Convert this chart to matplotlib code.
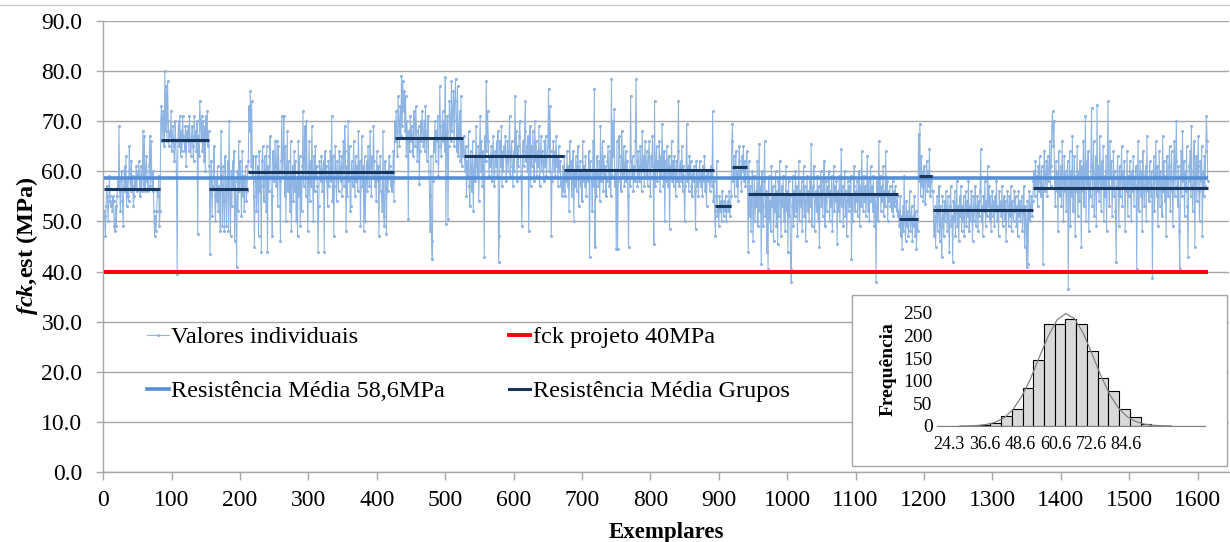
import numpy as np
import matplotlib.pyplot as plt
from matplotlib.lines import Line2D
from matplotlib.patches import Rectangle

plt.rcParams['font.family'] = ['Liberation Serif', 'DejaVu Serif']
plt.rcParams['mathtext.fontset'] = 'custom'
plt.rcParams['mathtext.rm'] = 'Liberation Serif'
plt.rcParams['mathtext.bf'] = 'Liberation Serif:bold'
plt.rcParams['mathtext.bfit'] = 'Liberation Serif:italic:bold'

# Individual values (MPa), one list per group
g01 = [52, 51, 47, 53, 57, 55, 50, 54, 59, 55, 53, 54, 52, 55, 54, 49, 48, 53, 49, 55,
       58, 57, 69, 56, 52, 58, 60, 54, 49, 57, 61, 56, 63, 53, 58, 55, 54, 65, 60, 56,
       62, 57, 59, 53, 55, 58, 57, 61, 56, 60, 59, 62, 58, 55, 61, 56, 59, 68, 57, 67,
       56, 60, 63, 58, 57, 56, 61, 67, 57, 66, 59, 56, 60, 52, 47, 51, 48, 52, 56, 55,
       59, 49, 52]
g02 = [70, 73, 66, 71, 72, 65, 80, 68, 77, 66, 78, 70, 65, 68, 67, 72, 64, 66, 69, 65,
       62, 70, 66, 60, 39.5, 66, 70, 65, 71, 63, 68, 64, 71, 67, 66, 64, 69, 61, 68, 66,
       69, 64, 71, 66, 63, 67, 69, 65, 62, 71, 66, 68, 64, 70, 47.5, 67, 63, 74, 70, 66,
       71, 64, 70, 62, 69, 60, 71, 66, 72, 65, 68]
g03 = [61, 43.5, 58, 62, 51, 57, 60, 65, 55, 50, 58, 54, 61, 52, 57, 56, 48, 68, 59, 49,
       61, 54, 48, 63, 57, 49, 58, 62, 48, 70, 55, 47, 60, 53, 62, 57, 64, 46, 58, 54,
       41, 60, 52, 66, 56, 62, 58, 51, 64, 55, 59, 52, 58, 61, 54, 56, 60]
g04 = [62, 73, 68, 76, 61, 74, 59, 63, 55, 45, 58, 63, 52, 57, 61, 47, 64, 56, 59, 44,
       62, 65, 57, 54, 63, 60, 52, 65, 44, 61, 56, 63, 67, 59, 55, 47, 64, 60, 58, 66,
       61, 57, 66, 53, 65, 60, 58, 46, 62, 71, 59, 63, 71, 55, 65, 50, 60, 68, 56, 62,
       57, 52, 66, 48, 59, 61, 54, 64, 56, 62, 50, 58, 47, 66, 55, 63, 49, 59, 52, 61,
       72, 57, 62, 69, 55, 70, 60, 48, 58, 66, 54, 62, 57, 69, 60, 50, 63, 56, 65, 59,
       61, 57, 44, 53, 62, 60, 58, 63, 56, 60, 62, 44, 64, 59, 61, 58, 53, 62, 57, 60,
       64, 58, 71, 54, 63, 47, 57, 65, 60, 54, 62, 59, 56, 64, 60, 58, 63, 55, 61, 66,
       57, 69, 64, 48, 61, 55, 70, 58, 65, 52, 53, 62, 59, 57, 66, 60, 55, 63, 58, 61,
       56, 68, 59, 62, 49, 60, 67, 57, 61, 48, 63, 50, 58, 62, 56, 65, 60, 57, 68, 61,
       55, 63, 59, 69, 62, 57, 60, 54, 64, 58, 61, 47, 59, 63, 56, 55, 52, 68, 51, 49,
       62, 58, 47.5, 60, 56, 59, 63, 61, 57, 60, 56, 58, 64, 54]
g05 = [70, 66, 72, 68, 63, 75, 70, 65, 73, 67, 79, 69, 78, 72, 76, 68, 75, 63, 70, 66,
       50.5, 68, 64, 71, 66, 69, 67, 63, 72, 70, 65, 73, 68, 62, 66, 69, 57.5, 64, 70, 66,
       72, 68, 65, 70, 64, 73, 67, 62, 68, 71, 60, 55, 48, 63, 46, 42.5, 58, 66, 64, 70,
       62, 68, 66, 71, 59, 65, 77, 69, 63, 67, 72, 66, 70, 64, 78.8, 49.5, 68, 71, 50.5, 65,
       74, 70, 66, 78, 68, 72, 76, 65, 74, 78.5, 70, 64, 77, 63, 68, 72, 62, 75, 61, 66,
       63]
g06 = [67, 63, 60, 65, 55, 62, 59, 68, 57, 53, 64, 61, 56, 66, 52, 60, 63, 58, 69, 61,
       59, 65, 54, 63, 71, 60, 66, 57, 64, 62, 43, 67, 62, 78, 64, 72, 66, 59, 63, 61,
       65, 58, 63, 67, 60, 57, 64, 61, 66, 59, 68, 42, 47, 66, 61, 69, 57, 64, 60, 65,
       63, 67, 58, 62, 66, 60, 64, 71, 59, 63, 66, 61, 57, 64, 60, 75, 63, 68, 58, 65,
       61, 67, 70, 63, 59, 49, 64, 66, 61, 68, 74, 62, 65, 60, 67, 48, 63, 69, 57, 65,
       61, 68, 64, 58, 70, 62, 66, 59, 64, 61, 69, 57, 63, 67, 60, 64, 62, 58, 66, 61,
       67, 59, 63, 65, 76.5, 60, 73, 64, 47, 58, 62, 66, 60, 64, 59, 67, 61, 63, 57, 65,
       60, 62, 57, 58, 55, 61, 56]
g07 = [63, 55, 60, 58, 64, 57, 61, 52, 66, 59, 62, 55, 58, 64, 50, 60, 57, 63, 56, 61,
       65, 53, 59, 62, 57, 60, 54, 66, 58, 61, 57, 63, 55, 60, 58, 59, 64, 43, 62, 60,
       58, 52, 66, 57, 76.5, 45, 60, 55, 63, 59, 57, 62, 54, 69, 58, 61, 66, 56, 63, 59,
       61, 55, 58, 62, 65, 60, 57, 64, 55, 78.5, 59, 70, 63, 72.5, 57, 60, 44.5, 66, 44.5, 58,
       67, 63, 60, 56, 68, 62, 59, 65, 57, 61, 64, 58, 62, 55, 45, 60, 57, 75, 62, 59,
       63, 56, 61, 58, 66, 78.5, 62, 57, 64, 60, 58, 65, 61, 56, 68, 60, 63, 57, 66, 61,
       59, 64, 57, 62, 66, 60, 55, 63, 61, 67, 59, 45.5, 74, 57, 61, 65, 58, 62, 60, 66,
       56, 63, 59, 69.5, 61, 57, 64, 50, 62, 58, 65, 60, 57, 63, 48.5, 61, 59, 66, 58, 62,
       57, 63, 60, 55, 62, 58, 64, 74, 57, 60, 62, 58, 65, 56, 61, 59, 50, 57, 60, 69.5,
       58, 61, 56, 63, 59, 62, 57, 55, 60, 58, 61, 56, 48.5, 62, 57, 60, 55, 58, 62, 59,
       57, 60, 55, 61, 58, 63, 56, 59, 53, 60, 58, 60, 58, 56, 61, 59, 57, 72, 54, 58]
g08 = [52, 47, 55, 62, 51, 53, 49, 55, 52, 54, 50, 56, 53, 51, 54, 52, 55, 50, 53, 54,
       52, 56, 51, 53, 55]
g09 = [66, 69.5, 58, 63, 55, 61, 64, 57, 60, 54, 62, 65, 59, 61, 56, 63, 60, 65, 58, 62,
       57, 61, 64]
g10 = [58, 44, 62, 51, 57, 48, 55, 60, 46, 53, 59, 50, 56, 53, 62, 49, 55, 65.5, 52, 57,
       41.5, 60, 53, 49, 58, 66, 51, 56, 44, 55, 40.5, 59, 50, 54, 48, 61, 53, 57, 46, 55,
       52, 60, 49, 56, 45.5, 58, 51, 62, 54, 47, 57, 53, 59, 50, 55, 48, 61, 52, 56, 44,
       58, 51, 55, 40.5, 38, 53, 59, 49, 56, 51, 60, 52, 57, 47, 54, 62, 50, 56, 53, 58,
       48, 55, 61, 51, 57, 46, 54, 59, 52, 56, 50, 58, 53, 65.5, 49, 57, 55, 61, 48, 54,
       56, 52, 59, 50, 57, 45, 55, 60, 53, 58, 51, 56, 62, 49, 54, 58, 52, 57, 55, 60,
       50, 56, 53, 59, 48, 55, 61, 52, 57, 54, 58, 45.5, 56, 52, 59, 50, 55, 64.5, 53, 57,
       49, 55, 60, 51, 56, 47, 54, 58, 52, 57, 53, 59, 42.5, 55, 50, 57, 61, 52, 56, 54,
       58, 51, 55, 60, 49, 57, 53, 64, 56, 52, 59, 54, 57, 51, 55, 63, 52, 58, 50, 56,
       61, 54, 57, 52, 59, 49, 55, 53, 38, 58, 56, 50, 66, 55, 59, 52, 57, 54, 61, 51,
       56, 53, 64, 55, 58, 50, 56, 54, 57, 53, 55, 52, 58, 51, 56, 53, 57, 54, 52, 55,
       51]
g11 = [52, 49, 55, 47, 51, 44.5, 53, 48, 59, 50, 46, 54, 49, 52, 47, 51, 56, 48, 50, 53,
       46, 51, 49, 55, 47, 52, 44.5, 50, 48]
g12 = [67.5, 58, 69.5, 55, 63, 57, 60, 54, 61, 58, 53.5, 59, 62, 56, 60, 57, 64.5, 55, 58, 59,
       56]
g13 = [56, 50, 47, 53, 45, 51, 55, 48, 52, 57, 46, 53, 49, 43, 55, 51, 47, 54, 50, 56,
       52, 48, 55, 50, 44, 53, 57, 49, 51, 42, 54, 50, 56, 47, 52, 58, 49, 53, 46, 55,
       51, 57, 48, 53, 50, 55, 47, 52, 56, 49, 54, 51, 58, 48, 53, 50, 56, 52, 46, 55,
       50, 53, 57, 49, 52, 55, 48, 54, 51, 56, 64.5, 50, 53, 47, 55, 52, 58, 49, 54, 51,
       61, 53, 57, 50, 55, 48, 53, 56, 51, 54, 49, 55, 52, 58, 50, 53, 47, 56, 52, 54,
       51, 57, 49, 53, 55, 50, 54, 46, 52, 56, 53, 49, 55, 51, 57, 48, 54, 52, 50, 56,
       52, 55, 49, 53, 47, 56, 51, 54, 50, 53, 55, 48, 52, 57, 45, 53, 50, 41, 54, 41.5,
       52, 56, 50, 53, 55, 51, 54]
g14 = [58, 60, 55, 62, 57, 59, 53, 61, 56, 63, 58, 55, 61, 57, 41.5, 60, 64, 56, 59, 62,
       55, 63, 58, 60, 66, 57, 61, 69, 72, 65, 70, 58, 53, 62, 56, 60, 48, 64, 57, 55,
       61, 53, 66, 58, 50, 63, 56, 60, 52, 59, 62, 36.5, 57, 64, 49, 60, 55, 67, 52, 58,
       63, 47, 59, 56, 65, 51, 60, 54, 62, 58, 45, 61, 56, 66, 53, 59, 71, 50, 62, 57,
       64, 48, 58, 55, 61, 72.7, 53, 60, 66, 51, 58, 63, 49, 73.3, 56, 61, 54, 67, 59, 52,
       62, 57, 65, 50, 59, 55, 63, 48, 60, 74, 57, 53, 66, 59, 62, 51, 58, 64, 55, 60,
       52, 42, 57, 63, 58, 49, 61, 55, 59, 65, 53, 60, 57, 62, 48, 58, 56, 64, 51, 59,
       55, 62, 58, 50, 60, 56, 63, 53, 59, 57, 61, 40.5, 56, 66, 52, 58, 62, 55, 60, 48,
       64, 57, 53, 59, 61, 50, 67, 56, 58, 54, 62, 58, 55, 60, 38.7, 57, 63, 52, 59, 66,
       55, 61, 49, 58, 64, 53, 60, 57, 51, 67, 56, 62, 54, 59, 47, 63, 58, 55, 61, 65,
       52, 58, 64, 56, 49, 60, 66, 55, 62, 70, 57, 53, 61, 48, 40.5, 59, 64, 55, 68, 58,
       62, 51, 60, 56, 65, 53, 43, 58, 61, 64, 55, 69, 57, 52, 60, 66, 45, 59, 63, 54,
       61, 67, 56, 50, 62, 58, 65, 47, 60, 55, 63, 57, 64, 71, 66, 58]

groups = [g01, g02, g03, g04, g05, g06, g07, g08, g09, g10, g11, g12, g13, g14]
group_means = [56.5, 66.3, 56.4, 59.9, 66.7, 63.1, 60.3, 53.0, 60.9, 55.4, 50.4, 59.1, 52.3, 56.7]
overall_mean = 58.6
fck_design = 40.0

# Inset histogram (Excel category axis)
hist_freq = [0, 0, 0, 1, 2, 6, 22, 37, 83, 146, 226, 225, 237, 226, 166, 107, 78, 37, 19, 4,
             1, 0, 0, 0, 0]
hist_tick_labels = ['24.3', '36.6', '48.6', '60.6', '72.6', '84.6']
curve_x = [28, 31, 34, 37, 40, 43, 46, 49, 52, 55, 58, 61, 64, 67, 70, 73, 76, 79, 82, 85,
           88, 91, 94, 97, 100]
curve_y = [0.1, 0.4, 1.2, 3.4, 8.2, 18, 36, 65, 104, 152, 198, 234, 248, 237, 204, 158, 110,
           69, 39, 20, 9.2, 3.8, 1.4, 0.5, 0.1]

values = np.concatenate([np.asarray(g, dtype=float) for g in groups])
n = len(values)
x = np.arange(1, n + 1)

W, H = 1230, 542
fig = plt.figure(figsize=(W / 100, H / 100), dpi=100)
ax = fig.add_axes([103.3 / W, 1 - 472 / H, (1229 - 103.3) / W, (472 - 21) / H])

c_val = '#8DB4E2'
c_mean = '#558ED5'
c_grp = '#17375E'

ax.plot(x, values, color=c_val, lw=0.75, marker='o', ms=2.2, mew=0, zorder=2)
ax.hlines(fck_design, 1, n, color='#FF0000', lw=2.8, zorder=3)
ax.hlines(overall_mean, 1, n, color=c_mean, lw=2.6, zorder=4)

start = 1
for g, m in zip(groups, group_means):
    end = start + len(g) - 1
    ax.hlines(m, start, end, color=c_grp, lw=2.2, zorder=5)
    start = end + 1

ax.set_xlim(0, 1646)
ax.set_ylim(0, 90)
ax.set_xticks(np.arange(0, 1700, 100))
yt = np.arange(0, 91, 10)
ax.set_yticks(yt)
ax.set_yticklabels([f'{v:.1f}' for v in yt])
ax.tick_params(axis='both', labelsize=17, color='#A6A6A6', width=1)
ax.tick_params(axis='y', length=5, pad=10)
ax.tick_params(axis='x', length=6, pad=7)
ax.yaxis.grid(True, color='#A6A6A6', lw=1)
ax.set_axisbelow(True)
for s in ['top', 'right']:
    ax.spines[s].set_visible(False)
for s in ['left', 'bottom']:
    ax.spines[s].set_color('#A6A6A6')
    ax.spines[s].set_linewidth(1)

ax.set_xlabel('Exemplares', fontsize=16.5, fontweight='bold', labelpad=8)
fig.text(27 / W, 1 - 246 / H, r'$\mathbfit{fck}$,est (MPa)', rotation=90,
         ha='center', va='center', fontsize=17.5, fontweight='bold')

handles = [
    Line2D([], [], color=c_val, lw=0.8, marker='o', ms=2.2, mew=0, label='Valores individuais'),
    Line2D([], [], color=c_mean, lw=2.6, label='Resistência Média 58,6MPa'),
    Line2D([], [], color='#FF0000', lw=2.8, label='fck projeto 40MPa'),
    Line2D([], [], color=c_grp, lw=2.2, label='Resistência Média Grupos'),
]
ax.legend(handles=handles, ncol=2, loc='upper left', bbox_to_anchor=(146.7 / W, 1 - 326 / H),
          bbox_transform=fig.transFigure, frameon=False, fontsize=17.5, borderpad=0,
          borderaxespad=0, handlelength=0.9, handletextpad=0.12, labelspacing=1.32,
          columnspacing=2.6)

# Inset frame and histogram
fig.add_artist(Rectangle((852 / W, 1 - 466 / H), (1227 - 852) / W, (466 - 295) / H,
                         transform=fig.transFigure, facecolor='white',
                         edgecolor='#A6A6A6', lw=1, zorder=10))
ax2 = fig.add_axes([936.7 / W, 1 - 426 / H, (1205 - 936.7) / W, (426 - 312.7) / H])
ax2.set_zorder(11)
ax2.patch.set_alpha(0)
bin_w = 3.65
bin_left = 20.1 + bin_w * np.arange(len(hist_freq))
ax2.bar(bin_left, hist_freq, width=bin_w, align='edge', color='#D9D9D9',
        edgecolor='black', lw=0.8)
ax2.plot(curve_x, curve_y, color='#808080', lw=0.9, clip_on=False)
ax2.set_xlim(bin_left[0], bin_left[-1] + bin_w)
ax2.set_ylim(0, 250)
ax2.set_yticks(np.arange(0, 251, 50))
ax2.set_xticks([float(t) for t in hist_tick_labels])
ax2.set_xticklabels(hist_tick_labels)
ax2.tick_params(axis='y', length=0, labelsize=14, pad=3)
ax2.tick_params(axis='x', length=0, labelsize=13, pad=7)
for s in ['top', 'right', 'left']:
    ax2.spines[s].set_visible(False)
ax2.spines['bottom'].set_color('#808080')
ax2.set_ylabel('Frequência', fontsize=14, fontweight='bold', labelpad=5)

# thin page line at the top of the image
fig.add_artist(Line2D([0, 1], [1 - 5 / H, 1 - 5 / H], transform=fig.transFigure,
                      color='#C8C8C8', lw=1))

fig.savefig('out.png', dpi=100)
